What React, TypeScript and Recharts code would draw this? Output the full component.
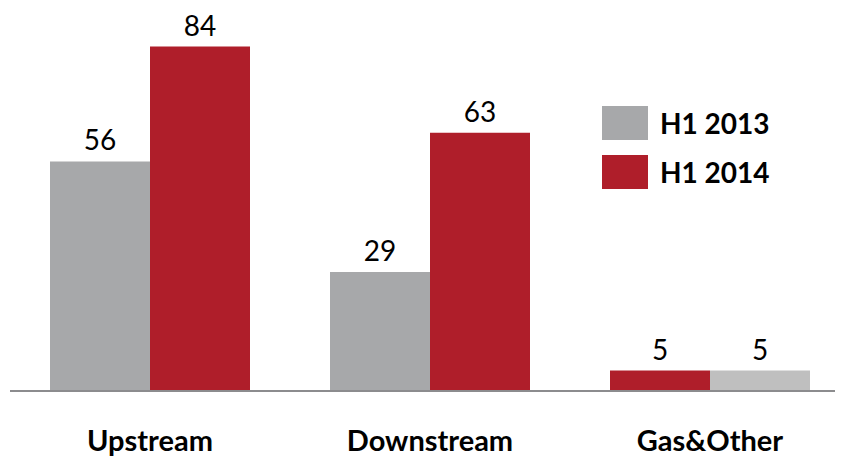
import React from "react";
import { BarChart, Bar, XAxis, YAxis, LabelList, Cell } from "recharts";

const categories = ["Upstream", "Downstream", "Gas&Other"];
const h12013 = [56, 29, 5];
const h12014 = [84, 63, 5];
const seriesNames = ["H1 2013", "H1 2014"];

const GREY = "#A7A8AA";
const RED = "#AF1E2A";
const LIGHT = "#BFBFBF";

const data = categories.map((c, i) => ({ name: c, a: h12013[i], b: h12014[i] }));

const FONT = "Lato, 'Open Sans', sans-serif";

const Tick = (props: any) => {
  const { x, y, payload } = props;
  return (
    <text x={x} y={y + 58} textAnchor="middle" fontFamily={FONT} fontWeight={700} fontSize={29} fill="#000">
      {payload.value}
    </text>
  );
};

const LegendBox = () => (
  <div style={{ position: "absolute", left: 594, top: 98, fontFamily: FONT }}>
    {seriesNames.map((n, i) => (
      <div key={n} style={{ display: "flex", alignItems: "center", height: 34, marginBottom: i === 0 ? 15 : 0 }}>
        <div style={{ width: 46, height: 34, background: i === 0 ? GREY : RED }} />
        <span style={{ marginLeft: 12, fontSize: 28, fontWeight: 700, color: "#000" }}>{n}</span>
      </div>
    ))}
  </div>
);

export default function App() {
  return (
    <div style={{ position: "relative", width: 835, height: 449, overflow: "hidden" }}>
      <BarChart
        width={842}
        height={449}
        data={data}
        margin={{ top: 14, right: 0, left: 2, bottom: 6 }}
        barSize={100}
        barGap={0}
        barCategoryGap={40}
      >
        <YAxis hide domain={[0, 90]} />
        <XAxis
          dataKey="name"
          height={60}
          tickLine={false}
          tickSize={0}
          axisLine={{ stroke: "#8C8C8E", strokeWidth: 2 }}
          tick={<Tick />}
          interval={0}
        />
        <Bar dataKey="a" isAnimationActive={false} fill={GREY}>
          {data.map((d, i) => (
            <Cell key={i} fill={i === 2 ? RED : GREY} />
          ))}
          <LabelList dataKey="a" position="top" offset={11} fill="#000" fontSize={28} fontFamily={FONT} />
        </Bar>
        <Bar dataKey="b" isAnimationActive={false} fill={RED}>
          {data.map((d, i) => (
            <Cell key={i} fill={i === 2 ? LIGHT : RED} />
          ))}
          <LabelList dataKey="b" position="top" offset={11} fill="#000" fontSize={28} fontFamily={FONT} />
        </Bar>
      </BarChart>
      <LegendBox />
    </div>
  );
}
